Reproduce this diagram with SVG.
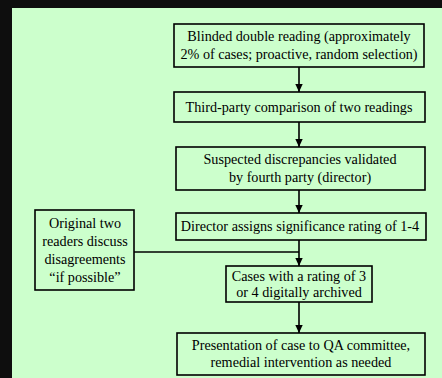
<svg xmlns="http://www.w3.org/2000/svg" width="442" height="378" viewBox="0 0 442 378">
<defs>
<style>
.box{fill:none;stroke:#000;stroke-width:1.6}
.t{font-family:"Liberation Serif","Times New Roman",serif;font-size:14.2px;fill:#000;text-anchor:middle}
.c{fill:none;stroke:#000;stroke-width:1.6}
</style>
<marker id="ah" viewBox="0 0 8 9" refX="8" refY="4.5" markerWidth="8" markerHeight="9" markerUnits="userSpaceOnUse" orient="auto">
<path d="M0,0.8 L8,4.5 L0,8.2 Z" fill="#000"/>
</marker>
</defs>
<rect x="0" y="0" width="442" height="378" fill="#0e0e0e"/>
<rect x="12" y="8" width="430" height="370" fill="#ccffcc"/>
<g id="n1"><rect class="box" x="174" y="24" width="250" height="43"/>
<text class="t" x="299" y="41">Blinded double reading (approximately</text>
<text class="t" x="299" y="59">2% of cases; proactive, random selection)</text></g>
<g id="n2"><rect class="box" x="174" y="92" width="251" height="30"/>
<text class="t" x="299" y="112">Third-party comparison of two readings</text></g>
<g id="n3"><rect class="box" x="176" y="147" width="249" height="43"/>
<text class="t" x="300" y="164">Suspected discrepancies validated</text>
<text class="t" x="300" y="182">by fourth party (director)</text></g>
<g id="n4"><rect class="box" x="176" y="213" width="250" height="27"/>
<text class="t" x="300" y="231">Director assigns significance rating of 1-4</text></g>
<g id="n5"><rect class="box" x="35" y="210" width="99" height="80"/>
<text class="t" x="85" y="228">Original two</text>
<text class="t" x="85" y="246">readers discuss</text>
<text class="t" x="85" y="264">disagreements</text>
<text class="t" x="85" y="282">“if possible”</text></g>
<g id="n6"><rect class="box" x="226" y="266" width="146" height="36"/>
<text class="t" x="299" y="281">Cases with a rating of 3</text>
<text class="t" x="299" y="297">or 4 digitally archived</text></g>
<g id="n7"><rect class="box" x="177" y="333" width="248" height="42"/>
<text class="t" x="301" y="350">Presentation of case to QA committee,</text>
<text class="t" x="301" y="367">remedial intervention as needed</text></g>
<g id="connectors">
<line class="c" x1="299" y1="67" x2="299" y2="92" marker-end="url(#ah)"/>
<line class="c" x1="299" y1="122" x2="299" y2="147" marker-end="url(#ah)"/>
<line class="c" x1="299" y1="190" x2="299" y2="213" marker-end="url(#ah)"/>
<polyline class="c" points="299,240 299,252"/>
<polyline class="c" points="134,252 299,252"/>
<line class="c" x1="299" y1="252" x2="299" y2="266" marker-end="url(#ah)"/>
<line class="c" x1="299" y1="302" x2="299" y2="333" marker-end="url(#ah)"/>
</g>
</svg>
